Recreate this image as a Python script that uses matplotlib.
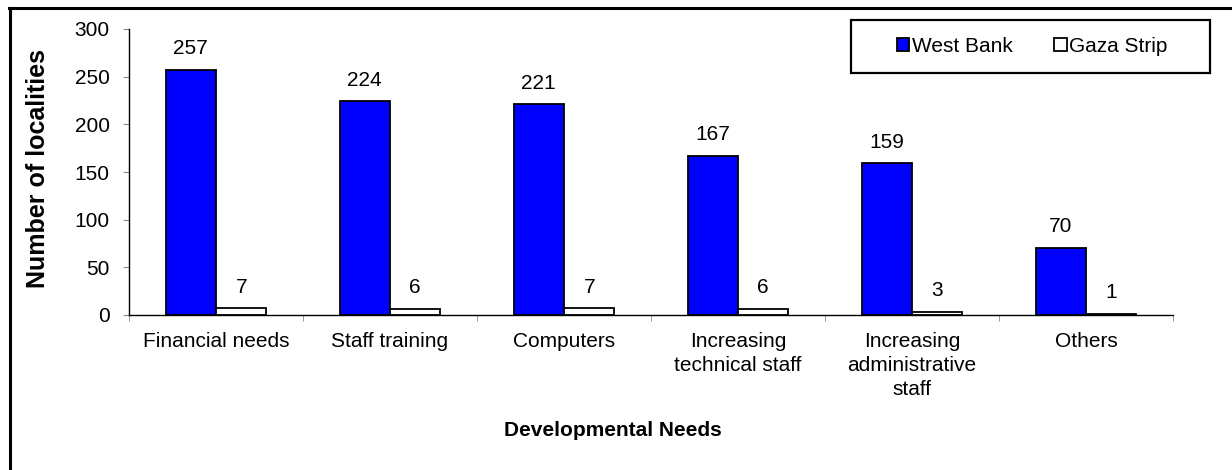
import numpy as np
import matplotlib
matplotlib.use('Agg')
from matplotlib import pyplot as plt
from matplotlib.patches import Patch, Rectangle
from matplotlib.lines import Line2D

plt.rcParams['font.family'] = ['Liberation Sans', 'DejaVu Sans']
plt.rcParams['font.size'] = 15

categories = ['Financial needs', 'Staff training', 'Computers',
              'Increasing\ntechnical staff', 'Increasing\nadministrative\nstaff', 'Others']
west_bank = [257, 224, 221, 167, 159, 70]
gaza_strip = [7, 6, 7, 6, 3, 1]

W, H = 1232, 470
fig = plt.figure(figsize=(W/100, H/100), dpi=100)
ax = fig.add_axes([129/W, 1-315/H, (1173-129)/W, (315-29)/H])

x = np.arange(len(categories))
bw = 0.29
b1 = ax.bar(x - bw/2, west_bank, bw, color='#0000ff', edgecolor='black', linewidth=1.3)
b2 = ax.bar(x + bw/2, gaza_strip, bw, color='white', edgecolor='black', linewidth=1.3)
ax.bar_label(b1, padding=8.5, fontsize=15)
ax.bar_label(b2, padding=8.5, fontsize=15)

ax.set_xlim(-0.5, len(categories) - 0.5)
ax.set_ylim(0, 300)
ax.set_yticks(range(0, 301, 50))
ax.set_xticks(x)
ax.set_xticklabels(categories, linespacing=1.35)
ax.set_xticks(np.arange(-0.5, len(categories)), minor=True)
ax.tick_params(axis='x', which='major', length=0, pad=12)
ax.tick_params(axis='x', which='minor', length=4, color='#888888', direction='out')
ax.tick_params(axis='y', length=4, color='#888888', direction='out', pad=10)
for s in ['top', 'right']:
    ax.spines[s].set_visible(False)
for s in ['left', 'bottom']:
    ax.spines[s].set_linewidth(1.0)

fig.text(38/W, 1-168/H, 'Number of localities', rotation=90, fontweight='bold',
         ha='center', va='center', fontsize=18)
fig.text(613/W, 1-430/H, 'Developmental Needs', fontweight='bold',
         ha='center', va='center', fontsize=15)

# legend box
handles = [Patch(facecolor='#0000ff', edgecolor='black', linewidth=1.3, label='West Bank'),
           Patch(facecolor='white', edgecolor='black', linewidth=1.3, label='Gaza Strip')]
fig.legend(handles=handles, loc='center', bbox_to_anchor=(1032/W, 1-46.5/H), ncol=2,
           frameon=False, handlelength=0.6, handleheight=0.6, handletextpad=0.12,
           columnspacing=2.0, fontsize=15)
fig.add_artist(Rectangle((851/W, 1-73/H), (1210-851)/W, 53/H, transform=fig.transFigure,
                         fill=False, edgecolor='black', linewidth=1.6))

# outer chart frame (clipped at the image edge)
fig.add_artist(Line2D([10/W, 10/W], [0, 1-8/H], transform=fig.transFigure, color='black', linewidth=2.2))
fig.add_artist(Line2D([9/W, 1], [1-8/H, 1-8/H], transform=fig.transFigure, color='black', linewidth=2.2))

fig.savefig('out.png', dpi=100)
